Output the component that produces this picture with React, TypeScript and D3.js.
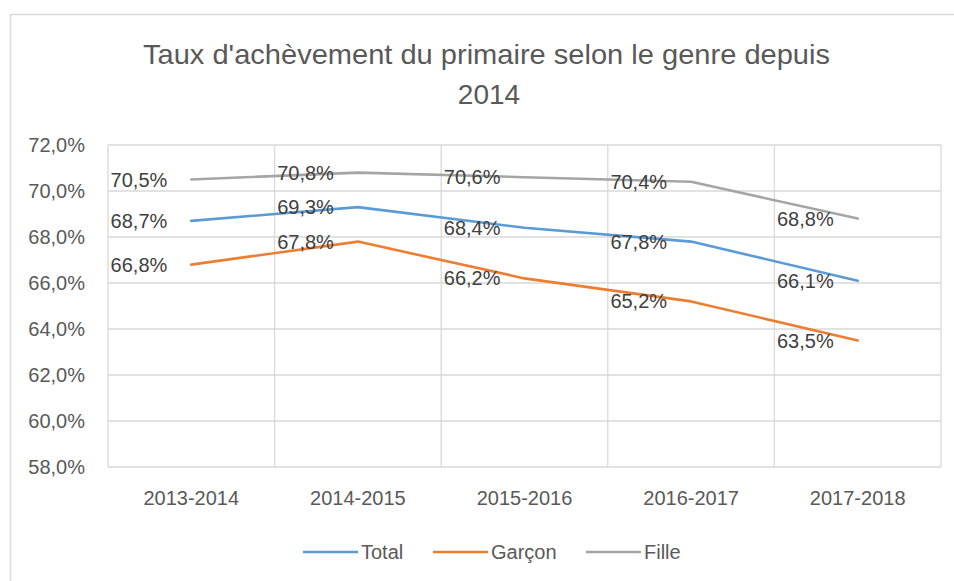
import React from "react";
import * as d3 from "d3";

const categories = ["2013-2014", "2014-2015", "2015-2016", "2016-2017", "2017-2018"];
const totalValues = [68.7, 69.3, 68.4, 67.8, 66.1];
const garconValues = [66.8, 67.8, 66.2, 65.2, 63.5];
const filleValues = [70.5, 70.8, 70.6, 70.4, 68.8];
const yTicks = [58, 60, 62, 64, 66, 68, 70, 72];
const seriesNames = ["Total", "Garçon", "Fille"];
const titleLines = ["Taux d'achèvement du primaire selon le genre depuis", "2014"];

const colors = ["#5B9BD5", "#ED7D31", "#A5A5A5"];
const W = 954;
const H = 581;
const plot = { left: 108, right: 941, top: 145, bottom: 467 };
const font = "'Liberation Sans', Arial, sans-serif";
const textColor = "#595959";

const fmt = (v: number) => v.toFixed(1).replace(".", ",") + "%";

export default function App() {
  const x = d3.scaleBand<string>().domain(categories).range([plot.left, plot.right]);
  const y = d3.scaleLinear().domain([58, 72]).range([plot.bottom, plot.top]);
  const series = [totalValues, garconValues, filleValues];
  const line = d3
    .line<number>()
    .x((_, i) => (x(categories[i]) as number) + x.bandwidth() / 2)
    .y((d) => y(d));

  const legendItems = [
    { x: 303, name: seriesNames[0] },
    { x: 433, name: seriesNames[1] },
    { x: 586, name: seriesNames[2] },
  ];

  return (
    <svg
      width={W}
      height={H}
      style={{ position: "absolute", left: 0, top: 0, background: "#fff" }}
      fontFamily={font}
    >
      <rect x={0} y={0} width={W} height={H} fill="#fff" />
      {/* chart frame (top and left visible) */}
      <line x1={10} y1={14.5} x2={W} y2={14.5} stroke="#D9D9D9" strokeWidth={1.5} />
      <line x1={10.5} y1={14} x2={10.5} y2={H} stroke="#D9D9D9" strokeWidth={1.5} />

      {/* title */}
      <text
        x={486.5}
        y={64}
        textAnchor="middle"
        fontSize={28}
        fill={textColor}
        textLength={687}
        lengthAdjust="spacingAndGlyphs"
      >
        {titleLines[0]}
      </text>
      <text x={489} y={104} textAnchor="middle" fontSize={28} fill={textColor}>
        {titleLines[1]}
      </text>

      {/* horizontal gridlines */}
      {yTicks.map((t) => (
        <line
          key={t}
          x1={plot.left}
          x2={plot.right}
          y1={y(t)}
          y2={y(t)}
          stroke="#D9D9D9"
          strokeWidth={1.3}
        />
      ))}
      {/* vertical gridlines at band boundaries */}
      {categories.concat(["__end"]).map((c, i) => {
        const xx = i < categories.length ? (x(c) as number) : plot.right;
        return (
          <line
            key={c}
            x1={xx}
            x2={xx}
            y1={plot.top}
            y2={plot.bottom}
            stroke="#D9D9D9"
            strokeWidth={1.3}
          />
        );
      })}

      {/* y tick labels */}
      {yTicks.map((t) => (
        <text
          key={t}
          x={85}
          y={y(t)}
          dy="0.35em"
          textAnchor="end"
          fontSize={20}
          fill={textColor}
        >
          {fmt(t)}
        </text>
      ))}

      {/* x labels */}
      {categories.map((c) => (
        <text
          key={c}
          x={(x(c) as number) + x.bandwidth() / 2}
          y={505}
          textAnchor="middle"
          fontSize={20}
          fill={textColor}
        >
          {c}
        </text>
      ))}

      {/* lines */}
      {series.map((s, i) => (
        <path
          key={i}
          d={line(s) as string}
          fill="none"
          stroke={colors[i]}
          strokeWidth={2.6}
          strokeLinejoin="round"
          strokeLinecap="round"
        />
      ))}

      {/* data labels */}
      {series.map((s, i) =>
        s.map((v, j) => (
          <text
            key={`${i}-${j}`}
            x={(x(categories[j]) as number) + x.bandwidth() / 2 - 24}
            y={y(v)}
            dy="0.35em"
            textAnchor="end"
            fontSize={20}
            fill="#404040"
          >
            {fmt(v)}
          </text>
        ))
      )}

      {/* legend */}
      {legendItems.map((it, i) => (
        <g key={it.name}>
          <line
            x1={it.x}
            x2={it.x + 55}
            y1={552}
            y2={552}
            stroke={colors[i]}
            strokeWidth={2.6}
          />
          <text x={it.x + 58} y={552} dy="0.35em" fontSize={20} fill={textColor}>
            {it.name}
          </text>
        </g>
      ))}
    </svg>
  );
}
